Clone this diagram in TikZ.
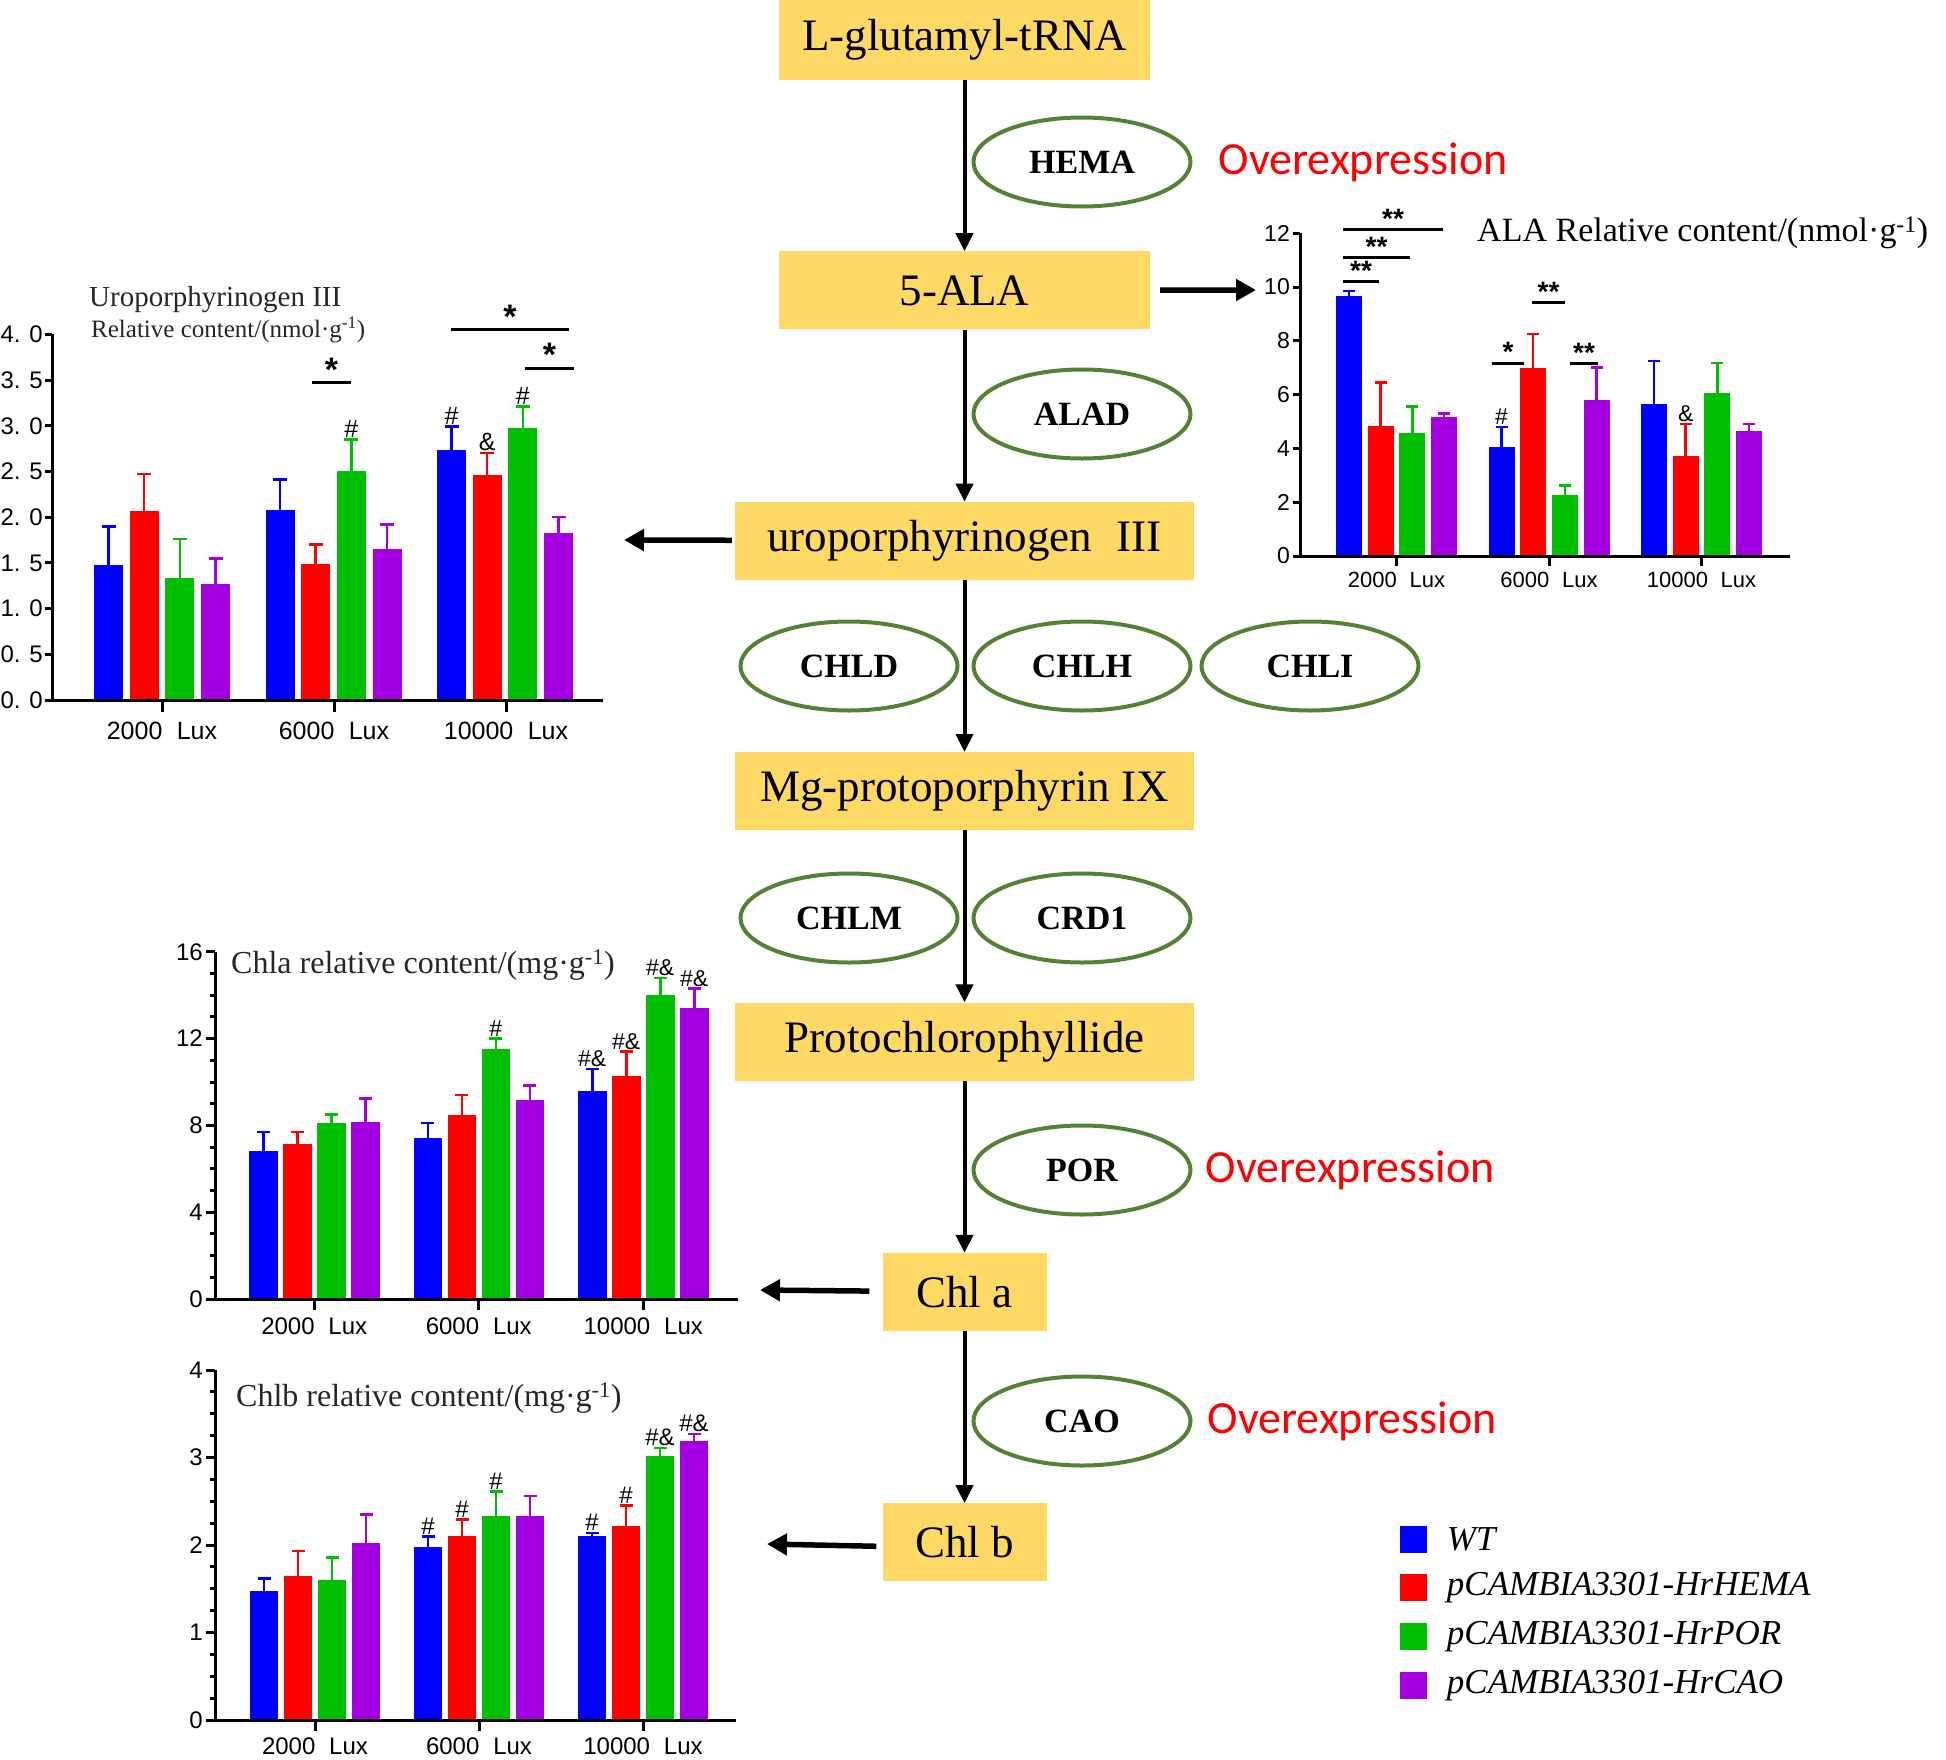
\documentclass[tikz,border=0pt]{standalone}
\usepackage{fontspec}
\setmainfont{Liberation Serif}
\newfontfamily\plotfont{Liberation Sans}
\newfontfamily\notefont{Carlito}
\usepackage{tikz}
\usetikzlibrary{arrows.meta, positioning, shapes.geometric}

\definecolor{BoxGold}{RGB}{255, 217, 102}
\definecolor{EnzGreen}{RGB}{84, 130, 53}
\definecolor{WTblue}{RGB}{0, 0, 255}
\definecolor{HEMAred}{RGB}{255, 0, 0}
\definecolor{PORgreen}{RGB}{0, 190, 0}
\definecolor{CAOpurple}{RGB}{165, 0, 225}
\newcommand{\fsz}[1]{\fontsize{#1}{#1}\selectfont}

\begin{document}
\begin{tikzpicture}[
    x=1pt, y=-1pt,
    metab/.style={rectangle, fill=BoxGold, minimum width=459pt, minimum height=78pt,
                  inner sep=0pt, font=\fsz{45}},
    enzyme/.style={ellipse, draw=EnzGreen, line width=4pt, minimum width=217pt,
                   minimum height=89pt, inner sep=0pt, font=\bfseries\fsz{34}},
    overexp/.style={text=red, font=\notefont\fsz{46}, inner sep=0pt},
    flow/.style={-{Triangle[length=18pt, width=17pt]}, line width=4pt},
    sidearrow/.style={-{Triangle[length=20pt, width=21pt]}, line width=5.5pt},
    axisline/.style={line width=3pt},
    errbar/.style={line width=2.5pt},
    sigline/.style={line width=3pt},
    sigstar/.style={font=\plotfont\bfseries\fsz{34}, inner sep=0pt, above},
    flag/.style={font=\plotfont\fsz{25}, inner sep=2pt, anchor=south},
    ticklab/.style={font=\plotfont\fsz{24}, anchor=east, inner sep=0pt},
    luxlab/.style={font=\plotfont\fsz{24}, inner sep=0pt},
    plottitle/.style={anchor=west, inner sep=0pt, text=black!85},
    legbox/.style={rectangle, minimum size=27pt, inner sep=0pt},
    legtext/.style={font=\itshape\fsz{35}, inner sep=0pt}
]
\useasboundingbox (0,0) rectangle (1946,1759);

\node[metab, minimum width=371pt, minimum height=80pt] (glu) at (964.5,40) {L-glutamyl-tRNA};
\node[metab, minimum width=371pt, below=171pt of glu] (ala) {5-ALA};
\node[metab, below=172pt of ala] (uro) {uroporphyrinogen\hspace{0.3em} III};
\node[metab, below=172pt of uro] (mgp) {Mg-protoporphyrin IX};
\node[metab, below=172pt of mgp] (pchl) {Protochlorophyllide};
\node[metab, minimum width=164pt, below=172pt of pchl] (chla) {Chl a};
\node[metab, minimum width=164pt, below=172pt of chla] (chlb) {Chl b};

\node[enzyme] (hema) at (1082,162) {HEMA};
\node[enzyme] (alad) at (1082,414) {ALAD};
\node[enzyme] (chld) at (849,666) {CHLD};
\node[enzyme] (chlh) at (1082,666) {CHLH};
\node[enzyme] (chli) at (1310,666) {CHLI};
\node[enzyme] (chlm) at (849,918) {CHLM};
\node[enzyme] (crd) at (1082,918) {CRD1};
\node[enzyme] (por) at (1082,1170) {POR};
\node[enzyme] (cao) at (1082,1421) {CAO};

\node[overexp, right=26pt of hema] (ovhema) {Overexpression};
\node[overexp, right=13pt of por] (ovpor) {Overexpression};
\node[overexp, right=15pt of cao] (ovcao) {Overexpression};

\draw[flow] (glu) -- (ala);
\draw[flow] (ala) -- (uro);
\draw[flow] (uro) -- (mgp);
\draw[flow] (mgp) -- (pchl);
\draw[flow] (pchl) -- (chla);
\draw[flow] (chla) -- (chlb);

\coordinate (alaplot) at (1256,290);
\coordinate (uroplot) at (624,540);
\coordinate (chlaplot) at (760,1290);
\coordinate (chlbplot) at (767,1544);
\draw[sidearrow, shorten <=10pt] (ala) -- (alaplot);
\draw[sidearrow, shorten <=3pt] (uro) -- (uroplot);
\draw[sidearrow, shorten <=13pt] (chla) -- (chlaplot);
\draw[sidearrow, shorten <=6pt] ([yshift=-4pt]chlb.west) -- (chlbplot);

% uroporphyrinogen III content
\begin{scope}[shift={(52,700)}, y=91.4pt]
  \foreach \v/\lab [count=\n] in {0/0. 0, 0.5/0. 5, 1/1. 0, 1.5/1. 5, 2/2. 0, 2.5/2. 5, 3/3. 0, 3.5/3. 5, 4/4. 0}{
    \draw[axisline] (0,\v) -- ++(-7pt,0pt);
    \node[ticklab] (uy\n) at (-9,\v) {\lab};
  }
  \foreach \gi/\bi/\col/\val/\err/\flg in {
      0/0/WTblue/1.48/1.90/{}, 0/1/HEMAred/2.07/2.47/{}, 0/2/PORgreen/1.34/1.76/{}, 0/3/CAOpurple/1.27/1.55/{},
      1/0/WTblue/2.08/2.41/{}, 1/1/HEMAred/1.49/1.70/{}, 1/2/PORgreen/2.51/2.85/\#, 1/3/CAOpurple/1.65/1.92/{},
      2/0/WTblue/2.74/2.99/\#, 2/1/HEMAred/2.46/2.70/\&, 2/2/PORgreen/2.98/3.21/\#, 2/3/CAOpurple/1.83/2.00/{}}{
    \pgfmathsetmacro\xl{42+\gi*171.5+\bi*35.7}
    \fill[\col] (\xl,0) rectangle ++(29,\val);
    \draw[errbar, \col] (\xl+14.5,\val) -- (\xl+14.5,\err);
    \draw[errbar, \col] (\xl+7.5,\err) -- (\xl+21.5,\err);
    \node[flag] (uf\gi\bi) at (\xl+14.5,\err) {\flg};
  }
  \draw[axisline] (0,0) -- (0,4);
  \draw[axisline] (-7,0) -- (551,0);
  \foreach \gx/\lab [count=\n] in {110/2000, 282/6000, 454/10000}{
    \draw[axisline] (\gx,0) -- ++(0pt,-12pt);
    \node[luxlab, font=\plotfont\fsz{25}] (ux\n) at ([yshift=-31pt]\gx,0) {\lab\hspace{0.3em} Lux};
  }
  \draw[sigline] (260,3.47) -- node[sigstar] (us1) {*} (299,3.47);
  \draw[sigline] (399,4.05) -- node[sigstar] (us2) {*} (517,4.05);
  \draw[sigline] (473,3.63) -- node[sigstar] (us3) {*} (522,3.63);
  \node[plottitle, font=\fsz{29}] (ut1) at (37,4.376) {Uroporphyrinogen III};
  \node[plottitle, font=\fsz{25}] (ut2) at (39,4.05) {Relative content/(nmol·g\textsuperscript{-1})};
\end{scope}

% ALA content
\begin{scope}[shift={(1300,556)}, y=26.9pt, ticklab/.append style={font=\plotfont\fsz{23}}]
  \foreach \v [count=\n] in {0,2,...,12}{
    \draw[axisline] (0,\v) -- ++(-7pt,0pt);
    \node[ticklab] (ay\n) at (-10,\v) {\v};
  }
  \foreach \gi/\bi/\col/\val/\err/\flg in {
      0/0/WTblue/9.65/9.85/{}, 0/1/HEMAred/4.85/6.45/{}, 0/2/PORgreen/4.57/5.55/{}, 0/3/CAOpurple/5.17/5.30/{},
      1/0/WTblue/4.07/4.80/\#, 1/1/HEMAred/7.00/8.25/{}, 1/2/PORgreen/2.28/2.62/{}, 1/3/CAOpurple/5.80/7.00/{},
      2/0/WTblue/5.65/7.25/{}, 2/1/HEMAred/3.70/4.90/\&, 2/2/PORgreen/6.05/7.18/{}, 2/3/CAOpurple/4.63/4.90/{}}{
    \pgfmathsetmacro\xl{36+\gi*152.5+\bi*31.7}
    \fill[\col] (\xl,0) rectangle ++(26,\val);
    \draw[errbar, \col] (\xl+13,\val) -- (\xl+13,\err);
    \draw[errbar, \col] (\xl+7,\err) -- (\xl+19,\err);
    \node[flag, font=\plotfont\fsz{23}] (af\gi\bi) at (\xl+13,\err) {\flg};
  }
  \draw[axisline] (0,0) -- (0,12);
  \draw[axisline] (-7,0) -- (490,0);
  \foreach \gx/\lab [count=\n] in {96.5/2000, 249/6000, 401.5/10000}{
    \draw[axisline] (\gx,0) -- ++(0pt,-10pt);
    \node[luxlab, font=\plotfont\fsz{22}] (ax\n) at ([yshift=-24pt]\gx,0) {\lab\hspace{0.3em} Lux};
  }
  \draw[sigline] (43,10.19) -- node[sigstar, font=\plotfont\bfseries\fsz{28}] (as1) {**} (79,10.19);
  \draw[sigline] (43,11.08) -- node[sigstar, font=\plotfont\bfseries\fsz{28}] (as2) {**} (110,11.08);
  \draw[sigline] (43,12.12) -- node[sigstar, font=\plotfont\bfseries\fsz{28}] (as3) {**} (143,12.12);
  \draw[sigline] (192,7.17) -- node[sigstar, font=\plotfont\bfseries\fsz{28}] (as4) {*} (224,7.17);
  \draw[sigline] (232,9.41) -- node[sigstar, font=\plotfont\bfseries\fsz{28}] (as5) {**} (265,9.41);
  \draw[sigline] (270,7.14) -- node[sigstar, font=\plotfont\bfseries\fsz{28}] (as6) {**} (298,7.14);
  \node[plottitle, text=black, font=\fsz{34}] (at1) at (177,12) {ALA Relative content/(nmol·g\textsuperscript{-1})};
\end{scope}

% Chl a content
\begin{scope}[shift={(215,1299)}, y=21.7pt]
  \foreach \v in {1,2,3,5,6,7,9,10,11,13,14,15}{
    \draw[axisline] (0,\v) -- ++(-5pt,0pt);
  }
  \foreach \v [count=\n] in {0,4,8,12,16}{
    \draw[axisline] (0,\v) -- ++(-9pt,0pt);
    \node[ticklab] (cay\n) at (-12,\v) {\v};
  }
  \foreach \gi/\bi/\col/\val/\err/\flg in {
      0/0/WTblue/6.80/7.70/{}, 0/1/HEMAred/7.15/7.70/{}, 0/2/PORgreen/8.10/8.50/{}, 0/3/CAOpurple/8.15/9.25/{},
      1/0/WTblue/7.40/8.10/{}, 1/1/HEMAred/8.50/9.40/{}, 1/2/PORgreen/11.50/12.00/\#, 1/3/CAOpurple/9.15/9.85/{},
      2/0/WTblue/9.60/10.60/\#\&, 2/1/HEMAred/10.30/11.40/\#\&, 2/2/PORgreen/14.00/14.80/\#\&, 2/3/CAOpurple/13.40/14.30/\#\&}{
    \pgfmathsetmacro\xl{34+\gi*164.5+\bi*34}
    \fill[\col] (\xl,0) rectangle ++(28.5,\val);
    \draw[errbar, \col] (\xl+14.25,\val) -- (\xl+14.25,\err);
    \draw[errbar, \col] (\xl+7.75,\err) -- (\xl+20.75,\err);
    \node[flag, font=\plotfont\fsz{23}] (caf\gi\bi) at (\xl+14.25,\err) {\flg};
  }
  \draw[axisline] (0,0) -- (0,16);
  \draw[axisline] (-9,0) -- (523,0);
  \foreach \gx/\lab [count=\n] in {99.25/2000, 263.75/6000, 428.25/10000}{
    \draw[axisline] (\gx,0) -- ++(0pt,-11pt);
    \node[luxlab] (cax\n) at ([yshift=-27pt]\gx,0) {\lab\hspace{0.3em} Lux};
  }
  \node[plottitle, font=\fsz{32}] (cat1) at (16,15.4) {Chla relative content/(mg·g\textsuperscript{-1})};
\end{scope}

% Chl b content
\begin{scope}[shift={(215,1720)}, y=87.5pt]
  \foreach \v in {0.25,0.5,...,4}{
    \draw[axisline] (0,\v) -- ++(-5pt,0pt);
  }
  \foreach \v [count=\n] in {0,1,2,3,4}{
    \draw[axisline] (0,\v) -- ++(-9pt,0pt);
    \node[ticklab] (cby\n) at (-12,\v) {\v};
  }
  \foreach \gi/\bi/\col/\val/\err/\flg in {
      0/0/WTblue/1.48/1.62/{}, 0/1/HEMAred/1.65/1.93/{}, 0/2/PORgreen/1.60/1.86/{}, 0/3/CAOpurple/2.02/2.35/{},
      1/0/WTblue/1.98/2.10/\#, 1/1/HEMAred/2.10/2.29/\#, 1/2/PORgreen/2.33/2.61/\#, 1/3/CAOpurple/2.33/2.56/{},
      2/0/WTblue/2.10/2.14/\#, 2/1/HEMAred/2.22/2.45/\#, 2/2/PORgreen/3.02/3.11/\#\&, 2/3/CAOpurple/3.19/3.27/\#\&}{
    \pgfmathsetmacro\xl{35+\gi*164+\bi*34}
    \fill[\col] (\xl,0) rectangle ++(28,\val);
    \draw[errbar, \col] (\xl+14,\val) -- (\xl+14,\err);
    \draw[errbar, \col] (\xl+7.5,\err) -- (\xl+20.5,\err);
    \node[flag, font=\plotfont\fsz{24}] (cbf\gi\bi) at (\xl+14,\err) {\flg};
  }
  \draw[axisline] (0,0) -- (0,4);
  \draw[axisline] (-9,0) -- (521,0);
  \foreach \gx/\lab [count=\n] in {100/2000, 264/6000, 428/10000}{
    \draw[axisline] (\gx,0) -- ++(0pt,-11pt);
    \node[luxlab] (cbx\n) at ([yshift=-26pt]\gx,0) {\lab\hspace{0.3em} Lux};
  }
  \node[plottitle, font=\fsz{32}] (cbt1) at (21,3.68) {Chlb relative content/(mg·g\textsuperscript{-1})};
\end{scope}

\foreach \col/\lab [count=\n from 0] in {WTblue/WT, HEMAred/pCAMBIA3301-HrHEMA, PORgreen/pCAMBIA3301-HrPOR, CAOpurple/pCAMBIA3301-HrCAO}{
  \node[legbox, fill=\col] (lk\n) at (1413,1539+\n*48.7) {};
  \node[legtext, right=20pt of lk\n] (lt\n) {\lab};
}
\end{tikzpicture}
\end{document}
